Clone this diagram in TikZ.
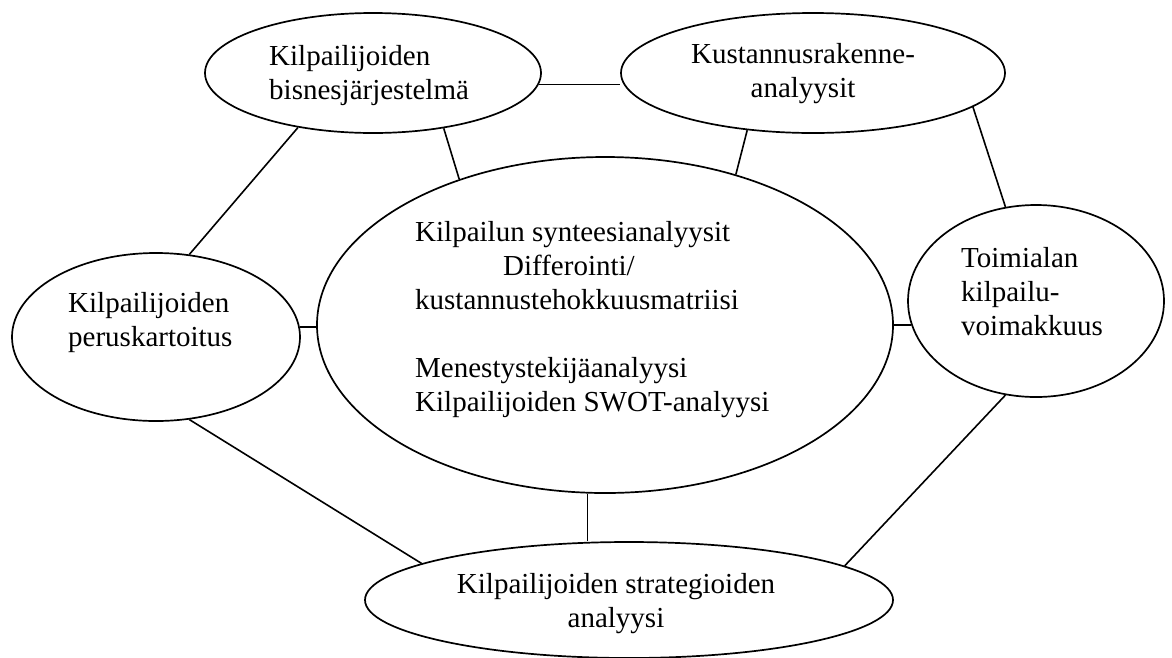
\documentclass[tikz,border=0pt]{standalone}
\usepackage{fontspec}
\setmainfont{Liberation Serif}
\usetikzlibrary{shapes.geometric,calc}
\begin{document}
\begin{tikzpicture}[x=1pt,y=-1pt,
  oval/.style={draw, ellipse, line width=1.7pt, inner sep=0pt},
  conn/.style={draw, line width=1.6pt},
  lbl/.style={anchor=base west, inner sep=0pt, font=\fontsize{29}{34}\selectfont},
  clbl/.style={anchor=base, inner sep=0pt, font=\fontsize{29}{34}\selectfont}]
\useasboundingbox (0,0) rectangle (1172,657);
% ellipses
\node[oval, minimum width=336pt, minimum height=120pt] (TL) at (373,73) {};
\node[oval, minimum width=384pt, minimum height=120pt] (TR) at (813,73) {};
\node[oval, minimum width=576pt, minimum height=336pt] (C) at (605,325) {};
\node[oval, minimum width=288pt, minimum height=168pt] (L) at (156,337) {};
\node[oval, minimum width=256pt, minimum height=192pt] (R) at (1036,301) {};
\node[oval, minimum width=528pt, minimum height=116pt] (B) at (629,600) {};
% texts
\node[lbl] (tTL) at (269,65) {\begin{tabular}[t]{@{}l@{}}Kilpailijoiden\\bisnesjärjestelmä\end{tabular}};
\node[clbl] (tTR) at (803,63) {\begin{tabular}[t]{@{}c@{}}Kustannusrakenne-\\analyysit\end{tabular}};
\node[lbl] (tC) at (415,241) {\begin{tabular}[t]{@{}l@{}}Kilpailun synteesianalyysit\\\hspace*{88pt}Differointi/\\kustannustehokkuusmatriisi\\ \\Menestystekijäanalyysi\\Kilpailijoiden SWOT-analyysi\end{tabular}};
\node[lbl] (tL) at (68,312) {\begin{tabular}[t]{@{}l@{}}Kilpailijoiden\\peruskartoitus\end{tabular}};
\node[lbl] (tR) at (961,267) {\begin{tabular}[t]{@{}l@{}}Toimialan\\kilpailu-\\voimakkuus\end{tabular}};
\node[clbl] (tB) at (616,593) {\begin{tabular}[t]{@{}c@{}}Kilpailijoiden strategioiden\\analyysi\end{tabular}};
% connectors
\draw[conn] (TL.-4) -- (TL.-4 -| TR.west);
\draw[conn] (TL.-38) -- (C.135);
\draw[conn] (TR.221.5) -- (C.49.5);
\draw[conn] (TL.216.9) -- (L.68.7);
\draw[conn] (TR.-12.7) -- (R.108.4);
\draw[conn] (L.4.8) -- (L.4.8 -| C.west);
\draw[conn] (C.east) -- (C.east -| R.191);
\draw[conn] (L.-68.7) -- (B.170.8);
\draw[conn] (C.264.5) -- (C.264.5 |- B.north);
\draw[conn] (R.252.8) -- (B.9);
\end{tikzpicture}
\end{document}
